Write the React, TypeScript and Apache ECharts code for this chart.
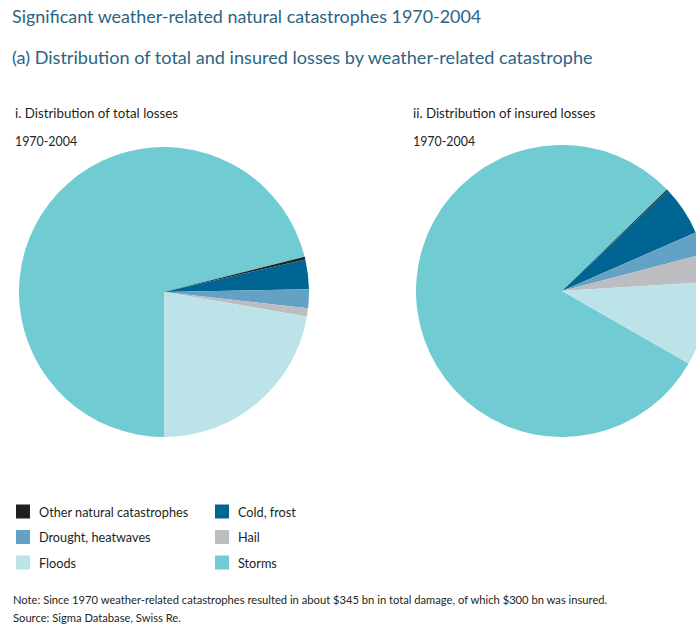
import React, { useEffect, useRef } from "react";
import * as echarts from "echarts";

const categories = ["Storms", "Other natural catastrophes", "Cold, frost", "Drought, heatwaves", "Hail", "Floods"];
const totalLosses = [71.1, 0.3, 3.3, 2.1, 0.9, 22.3];
const insuredLosses = [79.5, 0.15, 5.5, 2.5, 3.1, 9.25];
const colors: Record<string, string> = {
  "Storms": "#70cbd2",
  "Other natural catastrophes": "#231f20",
  "Cold, frost": "#006593",
  "Drought, heatwaves": "#63a1c5",
  "Hail": "#bcbdc1",
  "Floods": "#bce3e8",
};
const legendCol1 = ["Other natural catastrophes", "Drought, heatwaves", "Floods"];
const legendCol2 = ["Cold, frost", "Hail", "Storms"];

const FONT = "Lato";
const TITLE_COLOR = "#2b6483";
const TEXT_COLOR = "#231f20";

function txt(text: string, x: number, y: number, size: number, fill: string) {
  return {
    type: "text",
    x,
    y,
    style: {
      text,
      fontSize: size,
      fontFamily: FONT,
      fill,
      textVerticalAlign: "middle",
      textAlign: "left",
    },
  };
}

export default function App() {
  const ref = useRef<HTMLDivElement>(null);
  useEffect(() => {
    document.body.style.margin = "0";
    const chart = echarts.init(ref.current!, null, { renderer: "svg" });
    const mk = (vals: number[]) =>
      categories.map((c, i) => ({ name: c, value: vals[i], itemStyle: { color: colors[c] } }));
    const legendBase = {
      orient: "vertical",
      top: 499.5,
      itemWidth: 14,
      itemHeight: 14,
      itemGap: 11.5,
      icon: "rect",
      selectedMode: false,
      textStyle: { fontFamily: FONT, fontSize: 12.7, color: TEXT_COLOR, padding: [0, 0, 0, 4] },
    };
    chart.setOption({
      animation: false,
      backgroundColor: "#ffffff",
      legend: [
        { ...legendBase, left: 11, data: legendCol1 },
        { ...legendBase, left: 210, data: legendCol2 },
      ],
      series: [
        {
          type: "pie",
          center: [164, 292],
          radius: [0, 145],
          startAngle: -90,
          clockwise: true,
          label: { show: false },
          labelLine: { show: false },
          emphasis: { disabled: true },
          itemStyle: { borderWidth: 0 },
          data: mk(totalLosses),
        },
        {
          type: "pie",
          center: [562, 291],
          radius: [0, 146],
          startAngle: -29.8,
          clockwise: true,
          label: { show: false },
          labelLine: { show: false },
          emphasis: { disabled: true },
          itemStyle: { borderWidth: 0 },
          data: mk(insuredLosses),
        },
      ],
      graphic: [
        txt("Significant weather-related natural catastrophes 1970-2004", 12, 16, 17.9, TITLE_COLOR),
        txt("(a) Distribution of total and insured losses by weather-related catastrophe", 12, 56.5, 18.1, TITLE_COLOR),
        txt("i. Distribution of total losses", 15, 113, 13.3, TEXT_COLOR),
        txt("ii. Distribution of insured losses", 413, 113, 13.3, TEXT_COLOR),
        txt("1970-2004", 15, 141.7, 12.4, TEXT_COLOR),
        txt("1970-2004", 413, 141.7, 12.4, TEXT_COLOR),
        txt("Note: Since 1970 weather-related catastrophes resulted in about $345 bn in total damage, of which $300 bn was insured.", 13, 599.3, 11.2, TEXT_COLOR),
        txt("Source: Sigma Database, Swiss Re.", 13, 617.7, 11.2, TEXT_COLOR),
      ],
    });
    return () => chart.dispose();
  }, []);
  return <div ref={ref} style={{ position: "absolute", left: 0, top: 0, width: 696, height: 629 }} />;
}
